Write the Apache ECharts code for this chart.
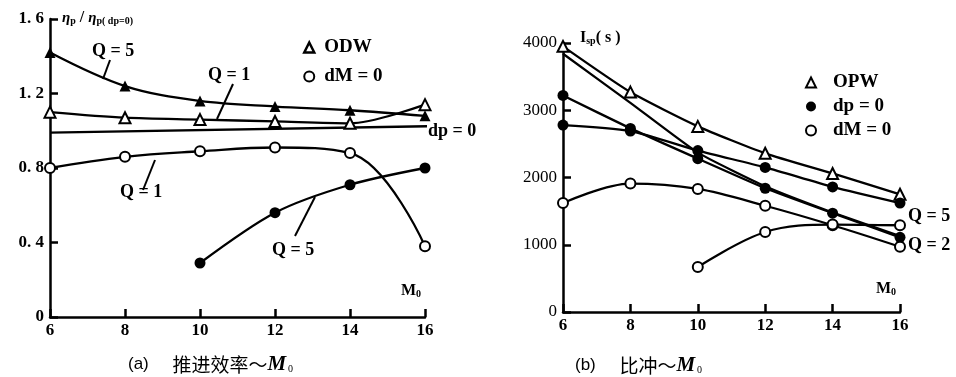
<!DOCTYPE html>
<html>
<head>
<meta charset="utf-8">
<script src="https://cdn.jsdelivr.net/npm/echarts@6/dist/echarts.min.js"></script>
<style>
  html, body { margin: 0; padding: 0; background: #fff; }
  #chart { width: 956px; height: 377px; }
</style>
</head>
<body>
<div id="chart"></div>
<script>
// Mach numbers (x axis)
const mach = [6, 8, 10, 12, 14, 16]
const machHigh = [10, 12, 14, 16]

// (a) propulsive efficiency ratio
const odwQ5 = [1.42, 1.24, 1.16, 1.13, 1.11, 1.08]
const odwQ1 = [1.10, 1.07, 1.06, 1.05, 1.04, 1.14]
const dmQ1 = [0.80, 0.86, 0.89, 0.91, 0.88, 0.38]
const dmQ5 = [0.29, 0.56, 0.71, 0.80]
const refX = [6, 16.3]
const refY = [0.99, 1.025]

// (b) specific impulse, s
const opwQ5 = [3950, 3270, 2760, 2360, 2060, 1750]
const opwQ2 = [3840, 3110, 2370, 1870, 1480, 1130]
const dpQ5 = [2780, 2690, 2400, 2150, 1860, 1620]
const dpQ2 = [3220, 2730, 2280, 1840, 1470, 1110]
const dmIspA = [1620, 1910, 1830, 1580, 1290, 970]
const dmIspB = [670, 1190, 1300, 1290]

const chart = echarts.init(document.getElementById('chart'))

const SERIF = 'Liberation Serif'
const black = '#000'

const pts = (xs, ys) => xs.map((x, i) => [x, ys[i]])

const mark = {
  triFill: { symbol: 'triangle', symbolSize: 11, itemStyle: { color: black } },
  triOpen: { symbol: 'triangle', symbolSize: 11, itemStyle: { color: '#fff', borderColor: black, borderWidth: 2 } },
  dotFill: { symbol: 'circle', symbolSize: 11, itemStyle: { color: black } },
  dotOpen: { symbol: 'circle', symbolSize: 10, itemStyle: { color: '#fff', borderColor: black, borderWidth: 2 } },
  none: { symbol: 'none', itemStyle: { color: black } }
}

const line = (name, xs, ys, idx, m, smooth) => ({
  name,
  type: 'line',
  xAxisIndex: idx,
  yAxisIndex: idx,
  data: pts(xs, ys),
  smooth: smooth,
  showAllSymbol: true,
  lineStyle: { color: black, width: 2.3 },
  ...m,
  emphasis: { disabled: true },
  z: 3
})

const xAxisBase = (idx) => ({
  type: 'value',
  gridIndex: idx,
  min: 6,
  max: 16,
  interval: 2,
  axisLine: { show: true, lineStyle: { color: black, width: 2.5 } },
  axisTick: { show: true, inside: true, length: 8, lineStyle: { color: black, width: 2.5 } },
  axisLabel: { color: black, fontFamily: SERIF, fontWeight: 'bold', fontSize: 17, margin: 5 },
  splitLine: { show: false }
})

const yAxisBase = (idx, max, interval, fmt, weight) => ({
  type: 'value',
  gridIndex: idx,
  min: 0,
  max: max,
  interval: interval,
  axisLine: { show: true, onZero: false, lineStyle: { color: black, width: 2.5 } },
  axisTick: { show: true, inside: true, length: 8, lineStyle: { color: black, width: 2.5 } },
  axisLabel: { color: black, fontFamily: SERIF, fontWeight: weight, fontSize: 17, margin: 6, formatter: fmt },
  splitLine: { show: false }
})

const txt = (x, y, text, extra) => ({
  type: 'text',
  left: x,
  top: y,
  style: {
    text,
    fill: black,
    font: 'bold 18px "' + SERIF + '"',
    ...extra
  }
})

const lead = (x1, y1, x2, y2) => ({
  type: 'line',
  shape: { x1, y1, x2, y2 },
  style: { stroke: black, lineWidth: 2 }
})

const subRich = {
  i: { fontFamily: SERIF, fontStyle: 'italic', fontWeight: 'bold', fontSize: 15, fill: black },
  s: { fontFamily: SERIF, fontWeight: 'bold', fontSize: 10, fill: black, verticalAlign: 'bottom', padding: [6, 0, 0, 0] },
  n: { fontFamily: SERIF, fontWeight: 'bold', fontSize: 16, fill: black }
}

const capRich = {
  a: { fontFamily: 'Liberation Sans', fontSize: 17, fill: black },
  c: { fontFamily: 'Noto Sans CJK SC', fontSize: 19, fill: black },
  m: { fontFamily: SERIF, fontStyle: 'italic', fontWeight: 'bold', fontSize: 21, fill: black },
  z: { fontFamily: SERIF, fontSize: 10, fill: black, padding: [10, 0, 0, 2] }
}

const legendText = (pad) => ({ color: black, fontFamily: SERIF, fontWeight: 'bold', fontSize: 19, padding: [0, 0, 0, pad] })

const option = {
  animation: false,
  backgroundColor: '#fff',
  grid: [
    { left: 50, top: 19, width: 375, height: 298 },
    { left: 563, top: 43, width: 337, height: 269 }
  ],
  xAxis: [xAxisBase(0), xAxisBase(1)],
  yAxis: [
    yAxisBase(0, 1.6, 0.4, (v) => (v === 0 ? '0' : v.toFixed(1).replace('.', '. ')), 'bold'),
    yAxisBase(1, 4000, 1000, (v) => String(v), 'normal')
  ],
  legend: [
    {
      orient: 'vertical',
      left: 298,
      top: 33,
      itemGap: 10,
      itemWidth: 10,
      itemHeight: 10,
      selectedMode: false,
      textStyle: legendText(5),
      data: [
        { name: 'ODW', icon: 'triangle', itemStyle: { color: '#fff', borderColor: black, borderWidth: 2.5 } },
        { name: 'dM = 0', icon: 'circle', itemStyle: { color: '#fff', borderColor: black, borderWidth: 2 } }
      ]
    },
    {
      orient: 'vertical',
      left: 800,
      top: 68,
      itemGap: 5,
      itemWidth: 10,
      itemHeight: 10,
      selectedMode: false,
      textStyle: legendText(12),
      data: [
        { name: 'OPW', icon: 'triangle', itemStyle: { color: '#fff', borderColor: black, borderWidth: 2 } },
        { name: 'dp = 0', icon: 'circle', itemStyle: { color: black } },
        { name: 'dM = 0 ', icon: 'circle', itemStyle: { color: '#fff', borderColor: black, borderWidth: 2 } }
      ]
    }
  ],
  series: [
    // (a)
    line('ref', refX, refY, 0, mark.none, false),
    line('ODW', mach, odwQ5, 0, mark.triFill, 0.35),
    line('ODW', mach, odwQ1, 0, mark.triOpen, 0.3),
    line('dM = 0', mach, dmQ1, 0, mark.dotOpen, 0.4),
    line('dM = 0', machHigh, dmQ5, 0, mark.dotFill, 0.3),
    // (b)
    line('OPW', mach, opwQ5, 1, mark.triOpen, 0.2),
    line('OPW2', mach, opwQ2, 1, mark.none, 0.15),
    line('dp = 0', mach, dpQ5, 1, mark.dotFill, 0.25),
    line('dp = 0', mach, dpQ2, 1, mark.dotFill, 0.15),
    line('dM = 0 ', mach, dmIspA, 1, mark.dotOpen, 0.35),
    line('dM = 0 ', machHigh, dmIspB, 1, mark.dotOpen, 0.35)
  ],
  graphic: [
    // axis names
    { type: 'text', left: 62, top: 10, style: { text: '{i|η}{s|p}{n| / }{i|η}{s|p( dp=0)}', rich: subRich } },
    { type: 'text', left: 580, top: 30, style: { text: '{n|I}{s|sp}{n|( s )}', rich: subRich } },
    { type: 'text', left: 401, top: 283, style: { text: '{n|M}{s|0}', rich: subRich } },
    { type: 'text', left: 876, top: 281, style: { text: '{n|M}{s|0}', rich: subRich } },
    // curve labels (a)
    txt(92, 42, 'Q = 5'),
    lead(110, 60, 103, 79),
    txt(208, 66, 'Q = 1'),
    lead(233, 84, 217, 119),
    txt(120, 183, 'Q = 1'),
    lead(155, 160, 143, 190),
    txt(272, 241, 'Q = 5'),
    lead(315, 197, 295, 236),
    txt(428, 122, 'dp = 0'),
    // curve labels (b)
    txt(908, 207, 'Q = 5'),
    txt(908, 236, 'Q = 2'),
    // captions
    { type: 'text', left: 128, top: 354, style: { text: '{a|(a)}{a|     }{c|推进效率～}{m|M}{z|0}', rich: capRich } },
    { type: 'text', left: 575, top: 355, style: { text: '{a|(b)}{a|     }{c|比冲～}{m|M}{z|0}', rich: capRich } }
  ]
}

chart.setOption(option)
</script>
</body>
</html>
